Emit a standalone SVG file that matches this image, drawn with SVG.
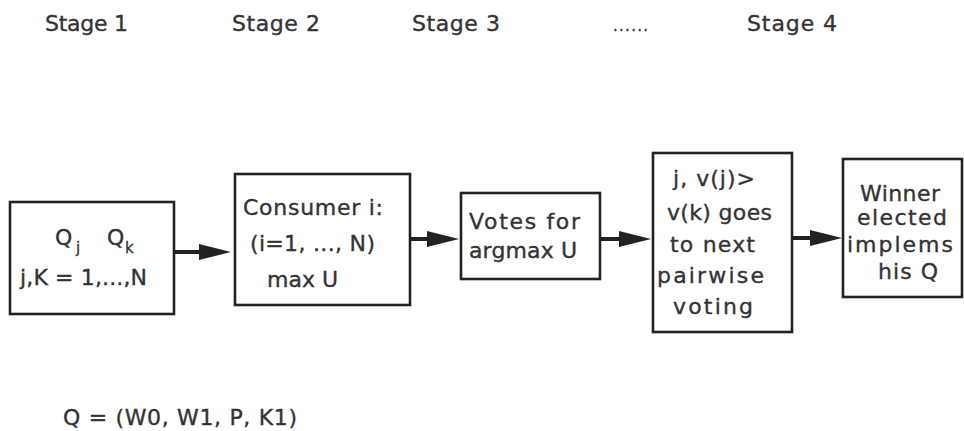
<svg xmlns="http://www.w3.org/2000/svg" width="964" height="431" viewBox="0 0 964 431">
  <style>
    .t { font-family: "DejaVu Sans", Verdana, sans-serif; font-size: 22px; fill: #333333; stroke: #333333; stroke-width: 0.35; }
    .sub { font-family: "DejaVu Sans", Verdana, sans-serif; font-size: 15px; fill: #333333; stroke: #333333; stroke-width: 0.3; }
    .box { fill: #ffffff; stroke: #222222; stroke-width: 2.6; }
    .conn { stroke: #222222; stroke-width: 4; fill: none; marker-end: url(#head); }
  </style>
  <defs>
    <marker id="head" viewBox="0 0 32 16" refX="12" refY="8" markerWidth="32" markerHeight="16" markerUnits="userSpaceOnUse" orient="auto">
      <path d="M0,0 L32,8 L0,16 Z" fill="#222222"/>
    </marker>
  </defs>
  <rect width="964" height="431" fill="#ffffff"/>

  <!-- stage headings -->
  <g id="stages">
    <text class="t" x="45" y="31" textLength="83" lengthAdjust="spacing">Stage 1</text>
    <text class="t" x="232" y="31" textLength="88" lengthAdjust="spacing">Stage 2</text>
    <text class="t" x="412" y="31" textLength="88" lengthAdjust="spacing">Stage 3</text>
    <text class="sub" x="613" y="31" textLength="35" lengthAdjust="spacing">......</text>
    <text class="t" x="747" y="31" textLength="90" lengthAdjust="spacing">Stage 4</text>
  </g>

  <!-- connectors -->
  <g id="connectors">
    <line class="conn" x1="175" y1="252" x2="211" y2="252"/>
    <line class="conn" x1="410" y1="239" x2="439" y2="239"/>
    <line class="conn" x1="599" y1="239" x2="631" y2="239"/>
    <line class="conn" x1="792" y1="238" x2="822" y2="238"/>
  </g>

  <g id="node-alternatives">
    <rect class="box" x="10" y="202" width="164" height="112"/>
    <text class="t" x="55" y="245">Q</text>
    <text class="sub" x="76" y="253">j</text>
    <text class="t" x="107" y="245">Q</text>
    <text class="sub" x="125" y="253">k</text>
    <text class="t" x="20" y="285" textLength="127" lengthAdjust="spacing">j,K = 1,...,N</text>
  </g>

  <g id="node-consumer">
    <rect class="box" x="235" y="174" width="175" height="131"/>
    <text class="t" x="243" y="215" textLength="140" lengthAdjust="spacing">Consumer i:</text>
    <text class="t" x="250" y="251" textLength="125" lengthAdjust="spacing">(i=1, ..., N)</text>
    <text class="t" x="267" y="287" textLength="71" lengthAdjust="spacing">max U</text>
  </g>

  <g id="node-votes">
    <rect class="box" x="461" y="193" width="139" height="86"/>
    <text class="t" x="469" y="229" textLength="111" lengthAdjust="spacing">Votes for</text>
    <text class="t" x="469" y="258" textLength="108" lengthAdjust="spacing">argmax U</text>
  </g>

  <g id="node-pairwise">
    <rect class="box" x="653" y="153" width="139" height="179"/>
    <text class="t" x="673" y="186" textLength="82" lengthAdjust="spacing">j, v(j)&gt;</text>
    <text class="t" x="667" y="220" textLength="105" lengthAdjust="spacing">v(k) goes</text>
    <text class="t" x="670" y="252" textLength="85" lengthAdjust="spacing">to next</text>
    <text class="t" x="657" y="283" textLength="107" lengthAdjust="spacing">pairwise</text>
    <text class="t" x="673" y="314" textLength="80" lengthAdjust="spacing">voting</text>
  </g>

  <g id="node-winner">
    <rect class="box" x="843" y="159" width="119" height="138"/>
    <text class="t" x="860" y="201" textLength="80" lengthAdjust="spacing">Winner</text>
    <text class="t" x="857" y="225" textLength="90" lengthAdjust="spacing">elected</text>
    <text class="t" x="847" y="252" textLength="106" lengthAdjust="spacing">implems</text>
    <text class="t" x="878" y="279" textLength="60" lengthAdjust="spacing">his Q</text>
  </g>

  <!-- definition of Q -->
  <text class="t" x="63" y="425" textLength="234" lengthAdjust="spacing">Q = (W0, W1, P, K1)</text>
</svg>
